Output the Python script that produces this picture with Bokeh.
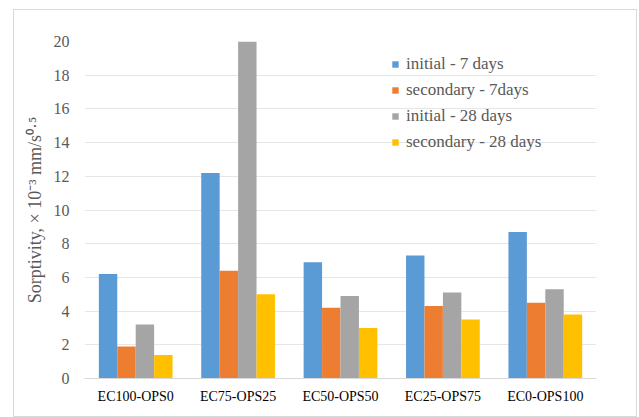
from bokeh.plotting import figure
from bokeh.models import ColumnDataSource, Range1d, FactorRange, Legend, LegendItem
from bokeh.transform import dodge
from bokeh.embed import file_html
from bokeh.resources import INLINE

categories = ["EC100-OPS0", "EC75-OPS25", "EC50-OPS50", "EC25-OPS75", "EC0-OPS100"]
initial_7 = [6.2, 12.2, 6.9, 7.3, 8.7]
secondary_7 = [1.9, 6.4, 4.2, 4.3, 4.5]
initial_28 = [3.2, 20.0, 4.9, 5.1, 5.3]
secondary_28 = [1.4, 5.0, 3.0, 3.5, 3.8]
series_names = ["initial - 7 days", "secondary - 7days", "initial - 28 days", "secondary - 28 days"]
y_ticks = [0, 2, 4, 6, 8, 10, 12, 14, 16, 18, 20]

colors = ["#5B9BD5", "#ED7D31", "#A5A5A5", "#FFC000"]
FONT = "Liberation Serif"
TEXT_COLOR = "#595959"

source = ColumnDataSource(dict(cat=categories, s0=initial_7, s1=secondary_7, s2=initial_28, s3=secondary_28))

p = figure(x_range=FactorRange(*categories, range_padding=0), y_range=Range1d(0, 20),
           width=624, height=408, output_backend="svg", toolbar_location=None,
           min_border_left=70, min_border_right=42, min_border_top=31, min_border_bottom=40)
p.margin = (9, 0, 0, 13)
p.styles = {"border": "1px solid #D9D9D9"}
p.outline_line_color = None

bw = 0.18
offsets = [-1.5 * bw, -0.5 * bw, 0.5 * bw, 1.5 * bw]
renderers = []
for i, key in enumerate(["s0", "s1", "s2", "s3"]):
    r = p.vbar(x=dodge("cat", offsets[i], range=p.x_range), top=key, width=bw, source=source,
               fill_color=colors[i], line_color=None)
    renderers.append(r)

legend = Legend(items=[LegendItem(label=series_names[i], renderers=[renderers[i]]) for i in range(4)],
                location=(307, 226))
legend.glyph_width = 8
legend.glyph_height = 8
legend.label_height = 21
legend.spacing = 5
legend.padding = 0
legend.margin = 0
legend.label_standoff = 7
legend.border_line_color = None
legend.background_fill_alpha = 0
legend.label_text_font = FONT
legend.label_text_font_size = "17px"
legend.label_text_color = TEXT_COLOR
p.add_layout(legend, "center")

p.xgrid.grid_line_color = None
p.ygrid.grid_line_color = "#E6E6E6"
p.ygrid.ticker = y_ticks
p.yaxis.ticker = y_ticks

p.yaxis.axis_line_color = None
p.yaxis.major_tick_line_color = None
p.yaxis.minor_tick_line_color = None
p.yaxis.major_label_standoff = 9
p.yaxis.major_label_text_font = FONT
p.yaxis.major_label_text_font_size = "16px"
p.yaxis.major_label_text_color = TEXT_COLOR
p.yaxis.axis_label = "Sorptivity, × 10⁻³ mm/s⁰·⁵"
p.yaxis.axis_label_text_font = FONT
p.yaxis.axis_label_text_font_size = "18px"
p.yaxis.axis_label_text_font_style = "normal"
p.yaxis.axis_label_text_color = TEXT_COLOR
p.yaxis.axis_label_standoff = 6

p.xaxis.axis_line_color = "#D9D9D9"
p.xaxis.major_tick_line_color = None
p.xaxis.minor_tick_line_color = None
p.xaxis.major_label_standoff = 4
p.xaxis.major_label_text_font = FONT
p.xaxis.major_label_text_font_size = "14px"
p.xaxis.major_label_text_color = "#000000"

open("out.html", "w").write(file_html(p, INLINE))
